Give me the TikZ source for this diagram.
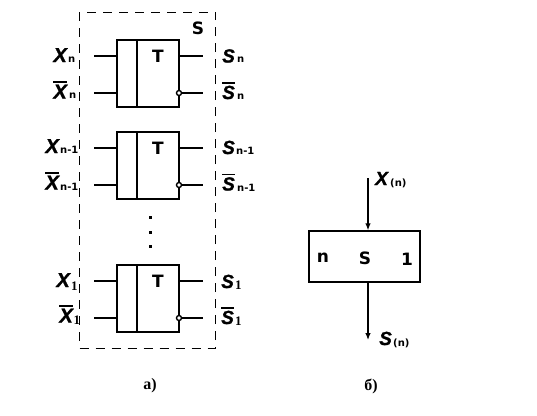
\documentclass[tikz,border=0pt]{standalone}
\usepackage{fontspec}
\setmainfont{DejaVu Sans}
\newfontfamily\capfont{Liberation Serif}
\newfontfamily\varfont[BoldFont={* Bold},BoldItalicFont={* Bold Italic},BoldItalicFeatures={FakeBold=1.2}]{Liberation Sans}
\usetikzlibrary{arrows.meta}
\tikzset{
 x=1pt,y=-1pt,
 wire/.style={line width=1.2pt,line cap=butt},
 blk/.style={draw,line width=1.4pt,inner sep=0,minimum width=62pt,minimum height=67pt},
 bigbox/.style={draw,line width=1.4pt,inner sep=0,minimum width=111pt,minimum height=51pt},
 bub/.style={circle,draw,line width=1.4pt,inner sep=0,minimum size=5pt,fill=white},
 lab/.style={inner sep=0,font=\bfseries\fontsize{17}{17}\selectfont},
 sm/.style={inner sep=0,anchor=base west,font=\bfseries\fontsize{10}{10}\selectfont},
 one/.style={inner sep=0,anchor=base west,font=\capfont\bfseries\fontsize{13}{13}\selectfont},
 vx/.style={inner sep=0,anchor=base east,font=\varfont\bfseries\itshape\fontsize{20}{20}\selectfont},
 vs/.style={inner sep=0,anchor=base west,font=\varfont\bfseries\itshape\fontsize{19}{19}\selectfont},
 capt/.style={inner sep=0,font=\capfont\bfseries\fontsize{16}{16}\selectfont},
 dotn/.style={fill,inner sep=0,minimum size=3pt},
 frame/.style={draw,dashed,dash pattern=on 9pt off 7pt,line width=.8pt,inner sep=0,minimum width=136pt,minimum height=336pt},
}
\newcommand{\barred}[1]{\vbox{\hrule height 1.2pt\kern 2.2pt\hbox{#1}}}
% name, top y
\newcommand{\tblock}[2]{%
 \node[blk] (#1) at (148,#2+33.5) {};
 \coordinate (#1ia) at (94,#2+16);
 \coordinate (#1ib) at (94,#2+53);
 \coordinate (#1oa) at (203,#2+16);
 \coordinate (#1ob) at (203,#2+53);
 \coordinate (#1l) at (137,#2);
 \coordinate (#1m) at (137,#2+67);
 \node[bub] (#1b) at (179,#2+53) {};
 \draw[wire] (#1ia) -- (#1ia-|#1.west);
 \draw[wire] (#1ib) -- (#1ib-|#1.west);
 \draw[wire] (#1ia-|#1.east) -- (#1oa);
 \draw[wire] (#1b) -- (#1ob);
 \draw[line width=1.4pt] (#1l) -- (#1m);
 \node[lab] (#1t) at (158,#2+16) {T};
}
\begin{document}
\begin{tikzpicture}
\useasboundingbox (0,0) rectangle (537,415);
\node[frame] (fr) at (147.5,180) {};
\node[lab] (ss) at (198,28) {S};
\tblock{a}{40}
\tblock{b}{132}
\tblock{c}{265}
\node[dotn] (d1) at (150,217) {};
\node[dotn] (d2) at (150,232) {};
\node[dotn] (d3) at (150,246) {};
% left labels
\node[vx] (xa) at (67,62) {X};
\node[sm] (xas) at (68,62) {n};
\node[vx] (xb) at (67,98.5) {\barred{X}};
\node[sm] (xbs) at (69,98.5) {n};
\node[vx] (xc) at (59,153) {X};
\node[sm] (xcs) at (60,153.5) {n-1};
\node[vx] (xd) at (59,189.5) {\barred{X}};
\node[sm] (xds) at (60,190) {n-1};
\node[vx] (xe) at (70,287) {X};
\node[one] (xes) at (71,290) {1};
\node[vx] (xf) at (73,322.5) {\barred{X}};
\node[one] (xfs) at (73.5,324) {1};
% right labels
\node[vs] (sa) at (222,62.5) {S};
\node[sm] (sas) at (237,62) {n};
\node[vs] (sb) at (222,99) {\barred{S}};
\node[sm] (sbs) at (237,99) {n};
\node[vs] (sc) at (222,154) {S};
\node[sm] (scs) at (236,154) {n-1};
\node[vs] (sd) at (222,190.5) {\barred{S}};
\node[sm] (sds) at (237,191) {n-1};
\node[vs] (se) at (221,288) {S};
\node[one] (ses) at (235,289) {1};
\node[vs] (sf) at (221,324) {\barred{S}};
\node[one] (sfs) at (235,325) {1};
% right diagram
\node[bigbox] (big) at (364.5,256.5) {};
\node[lab] (bn) at (323,258) {n};
\node[lab] (bs) at (365,258) {S};
\node[lab] (b1) at (407,259) {1};
\coordinate (top) at (368,178);
\coordinate (bot) at (368,340);
\draw[wire,-{Latex[length=7pt,width=5.5pt]}] (top) -- (top|-big.north);
\draw[wire,-{Latex[length=7pt,width=5.5pt]}] (bot|-big.south) -- (bot);
\node[vs] (xx) at (375,185) {X};
\node[sm] (xxs) at (390,186) {(n)};
\node[vs] (yy) at (379,345) {S};
\node[sm] (yys) at (393,346) {(n)};
\node[capt] (ca) at (150,386) {а)};
\node[capt] (cb) at (371,386) {б)};
\end{tikzpicture}
\end{document}
